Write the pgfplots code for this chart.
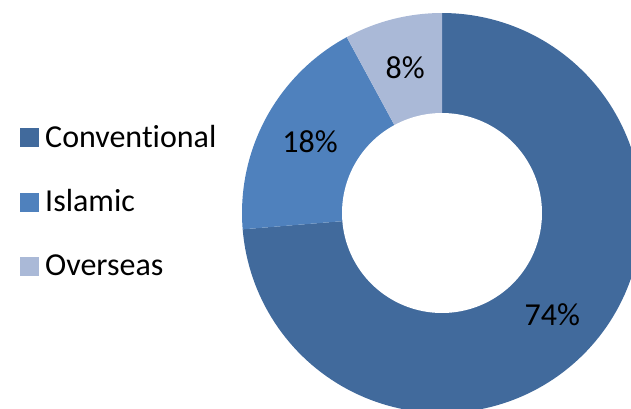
\documentclass[border=0pt]{standalone}
\usepackage{pgfplots}
\pgfplotsset{compat=1.18}
\usepackage{pgfplotstable}
\usepackage{fontspec}
\setmainfont{Carlito}[Ligatures=NoCommon]
\definecolor{convcol}{HTML}{416A9C}
\definecolor{islcol}{HTML}{4F81BD}
\definecolor{ovscol}{HTML}{AAB9D7}

\pgfplotstableread{
label value
Conventional 73.7
Islamic 18.4
Overseas 7.9
}\sharetable
\pgfplotstablegetelem{0}{value}\of\sharetable \let\vA\pgfplotsretval
\pgfplotstablegetelem{1}{value}\of\sharetable \let\vB\pgfplotsretval
\pgfplotstablegetelem{2}{value}\of\sharetable \let\vC\pgfplotsretval
\pgfmathsetmacro\aA{3.6*\vA}
\pgfmathsetmacro\aB{3.6*(\vA+\vB)}
\pgfmathsetmacro\aC{3.6*(\vA+\vB+\vC)}
\pgfmathsetmacro\mA{\aA/2}
\pgfmathsetmacro\mB{(\aA+\aB)/2}
\pgfmathsetmacro\mC{(\aB+\aC)/2}
\pgfmathtruncatemacro\lA{round(\vA)}
\pgfmathtruncatemacro\lB{round(\vB)}
\pgfmathtruncatemacro\lC{round(\vC)}
\def\cx{442}
\def\cy{213}
\def\Ro{200}
\def\Ri{100}
\def\Rl{150}

\begin{document}
\begin{tikzpicture}
\begin{axis}[
  width=631bp, height=409bp, scale only axis,
  xmin=0, xmax=631, ymin=0, ymax=409, y dir=reverse,
  axis line style={draw=none}, xtick=\empty, ytick=\empty,
  clip=true,
]
\addplot[fill=convcol, draw=none, domain=0:\aA, samples=150, variable=\t]
  ({\cx+\Ro*sin(\t)},{\cy-\Ro*cos(\t)}) -- (axis cs:\cx,\cy) -- cycle;
\addplot[fill=islcol, draw=none, domain=\aA:\aB, samples=60, variable=\t]
  ({\cx+\Ro*sin(\t)},{\cy-\Ro*cos(\t)}) -- (axis cs:\cx,\cy) -- cycle;
\addplot[fill=ovscol, draw=none, domain=\aB:\aC, samples=40, variable=\t]
  ({\cx+\Ro*sin(\t)},{\cy-\Ro*cos(\t)}) -- (axis cs:\cx,\cy) -- cycle;
\addplot[fill=white, draw=none, domain=0:360, samples=150, variable=\t]
  ({\cx+\Ri*sin(\t)},{\cy-\Ri*cos(\t)}) -- cycle;
% legend squares
\addplot[only marks, mark=square*, mark size=9bp, color=convcol] coordinates {(29,137)};
\addplot[only marks, mark=square*, mark size=9bp, color=islcol] coordinates {(29,202)};
\addplot[only marks, mark=square*, mark size=9bp, color=ovscol] coordinates {(29,266)};
\begin{scope}[every node/.style={font=\fontsize{32bp}{38bp}\selectfont, inner sep=0pt}]
\node[anchor=base west] at (axis cs:45,147) {Conventional};
\node[anchor=base west] at (axis cs:45,211) {Islamic};
\node[anchor=base west] at (axis cs:45,275) {Overseas};
\node at (axis cs:{\cx+\Rl*sin(\mA)},{\cy-\Rl*cos(\mA)}) {\lA\%};
\node at (axis cs:{\cx+\Rl*sin(\mB)},{\cy-\Rl*cos(\mB)}) {\lB\%};
\node at (axis cs:{\cx+\Rl*sin(\mC)},{\cy-\Rl*cos(\mC)}) {\lC\%};
\end{scope}
\end{axis}
\end{tikzpicture}
\end{document}
